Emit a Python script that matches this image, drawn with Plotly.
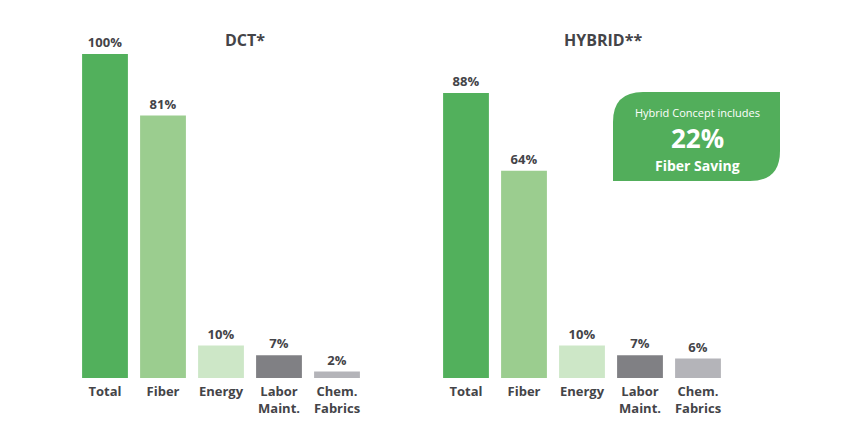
import plotly.graph_objects as go
from plotly.subplots import make_subplots

# Data
categories = ["Total", "Fiber", "Energy", "Labor<br>Maint.", "Chem.<br>Fabrics"]
dct_values = [100, 81, 10, 7, 2]
hybrid_values = [88, 64, 10, 7, 6]
bar_colors = ["#52B05C", "#9BCD8F", "#CDE7C7", "#808084", "#B4B4B9"]
panel_titles = ["DCT*", "HYBRID**"]
callout_lines = ["Hybrid Concept includes", "22%", "Fiber Saving"]

# page body has an 8px margin, so the figure is shifted by OFF
OFF = 8
W, H = 850 - OFF, 425 - OFF
TEXT = "#444448"
FONT = "Open Sans"


def px_x(x):
    return (x - OFF) / W


def px_y(y):
    return 1 - (y - OFF) / H


fig = make_subplots(rows=1, cols=2)

for col, vals in ((1, dct_values), (2, hybrid_values)):
    fig.add_trace(go.Bar(
        x=categories, y=vals,
        marker=dict(color=bar_colors, line_width=0),
        text=[f"{v}%" for v in vals],
        textposition="outside",
        textfont=dict(family=FONT, size=13, color=TEXT, weight="bold"),
        cliponaxis=False,
        showlegend=False,
    ), row=1, col=col)

baseline, top = 378, 378 - 1.1 * 324
fig.update_layout(
    width=W, height=H,
    margin=dict(l=0, r=0, t=0, b=0),
    plot_bgcolor="white", paper_bgcolor="white",
    bargap=0.21,
    font=dict(family=FONT, color=TEXT),
    xaxis=dict(domain=[px_x(76), px_x(366)]),
    xaxis2=dict(domain=[px_x(437), px_x(727)]),
)
fig.update_xaxes(showgrid=False, showline=False, ticks="", ticklabelstandoff=4,
                 tickfont=dict(family=FONT, size=13, color=TEXT, weight="bold"))
fig.update_yaxes(range=[0, 110], visible=False,
                 domain=[px_y(baseline), px_y(top)])

# Panel titles
for title, cx in zip(panel_titles, (245, 603)):
    fig.add_annotation(x=px_x(cx), y=px_y(40), xref="paper", yref="paper",
                       xanchor="center", yanchor="middle",
                       text=f"<b>{title}</b>", showarrow=False,
                       font=dict(family=FONT, size=16, color=TEXT))

# Callout box, rounded top-left and bottom-right corners
x0, x1, y0, y1, r = 613, 780, 92, 181, 30
pts = (f"M {px_x(x0)} {px_y(y1)} "
       f"L {px_x(x0)} {px_y(y0 + r)} "
       f"Q {px_x(x0)} {px_y(y0)} {px_x(x0 + r)} {px_y(y0)} "
       f"L {px_x(x1)} {px_y(y0)} "
       f"L {px_x(x1)} {px_y(y1 - r)} "
       f"Q {px_x(x1)} {px_y(y1)} {px_x(x1 - r)} {px_y(y1)} Z")
fig.add_shape(type="path", path=pts, xref="paper", yref="paper",
              fillcolor="#52AE5B", line_width=0, layer="above")

cx = 697
for txt, cy, size, bold in zip(callout_lines, (112, 138, 165), (11, 26, 14), (False, True, True)):
    fig.add_annotation(x=px_x(cx), y=px_y(cy), xref="paper", yref="paper",
                       xanchor="center", yanchor="middle", borderpad=0,
                       text=f"<b>{txt}</b>" if bold else txt, showarrow=False,
                       font=dict(family=FONT, size=size, color="white"))

fig.write_html("out.html")
